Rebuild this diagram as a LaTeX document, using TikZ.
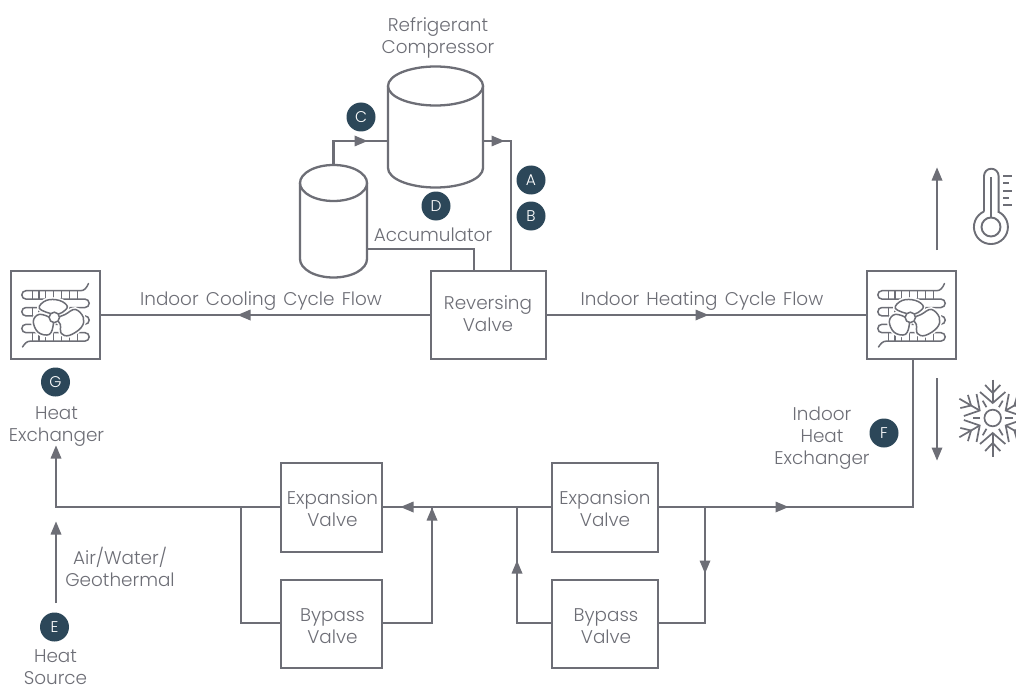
\documentclass[tikz,border=0pt]{standalone}
\usepackage{fontspec}
\setmainfont{Poppins Light}
\usetikzlibrary{arrows.meta}
\definecolor{ln}{HTML}{6D6E76}
\definecolor{tx}{HTML}{6D6E76}
\definecolor{bd}{HTML}{2C4759}
\tikzset{
 x=1pt,y=-1pt,
 ln/.style={draw=ln,line width=2.3pt,line join=miter},
 coil/.style={draw=ln,line width=1.5pt,line cap=round},
 box/.style={ln,fill=white,minimum width=#1,minimum height=88.5pt,inner sep=0pt},
 badge/.style={circle,fill=bd,text=white,minimum size=29pt,inner sep=0pt,font=\fontsize{15.5}{18}\selectfont},
 lbl/.style={text=tx,align=center,inner sep=0pt,font=\fontsize{18.4}{22}\selectfont},
 halo/.style={draw=white,line width=4.5pt,fill=white},
 vane/.style={coil,fill=white,line join=round},
 pics/hx/.style={code={
  \draw[coil]
    (33,-31.5) .. controls (31,-27) and (29,-24.3) .. (25,-24.3) -- (-29.5,-24.3)
    arc[start angle=270,end angle=90,radius=4.2] -- (29.5,-15.9)
    arc[start angle=-90,end angle=90,radius=4.2] -- (-29.5,-7.5)
    arc[start angle=270,end angle=90,radius=4.2] -- (29.5,0.9)
    arc[start angle=-90,end angle=90,radius=4.2] -- (-29.5,9.3)
    arc[start angle=270,end angle=90,radius=4.2] -- (29.5,17.7)
    arc[start angle=-90,end angle=90,radius=4.2] -- (-25,26.1)
    .. controls (-29,26.1) and (-31,29) .. (-33,32);
  \foreach \xx in {-23,-16.5,-10,-2,6,14,22}{
    \draw[coil,line width=1.1pt] (\xx,-24.3) -- (\xx,-15.9);
    \draw[coil,line width=1.1pt] (\xx,26.1) -- (\xx,17.7);
    \draw[coil,line width=1.1pt] (\xx,-7.5) -- (\xx,0.9);
    \draw[coil,line width=1.1pt] (\xx,9.3) -- (\xx,0.9);
  }
  \begin{scope}[shift={(-1.2,2.4)}]
  \foreach \s in {halo,vane}{
    \draw[\s] plot[smooth cycle,tension=.65] coordinates {(-1,-3) (-15,-9) (-8,-17) (5,-17) (13,-11) (8,-5) (2,-3)};
    \draw[\s] plot[smooth cycle,tension=.65] coordinates {(3,1) (11,-3) (21,-8) (29,0) (27,10) (15,18) (7,16) (6,7)};
    \draw[\s] plot[smooth cycle,tension=.65] coordinates {(-3,1) (-15,-3) (-21,4) (-16,15) (-5,17) (-1,7)};
  }
  \draw[coil,fill=white] (0,0) circle[radius=5.2];
  \end{scope}
 }},
}
\begin{document}
\begin{tikzpicture}
\useasboundingbox (0,0) rectangle (1016,687);
\fill[white] (0,0) rectangle (1016,687);
% nodes
\node[box=89pt] (hl) at (55.5,315) {};
\node[box=89pt] (hr) at (911.5,315) {};
\node[box=115pt] (rv) at (488.5,315) {};
\node[box=101pt] (e1) at (331.5,507.5) {};
\node[box=101pt] (b1) at (331.5,624) {};
\node[box=106pt] (e2) at (605,507.5) {};
\node[box=106pt] (b2) at (605,624) {};
\node[lbl] (rvt) at (488,314) {Reversing\\Valve};
\node[lbl] (e1t) at (332.5,509) {Expansion\\Valve};
\node[lbl] (b1t) at (332.5,626.5) {Bypass\\Valve};
\node[lbl] (e2t) at (605,509) {Expansion\\Valve};
\node[lbl] (b2t) at (606,626.5) {Bypass\\Valve};
\pic at (55.5,315) {hx};
\pic at (911.5,315) {hx};
% cylinders
\node[minimum width=95pt,minimum height=120pt,inner sep=0pt] (comp) at (435.5,127) {};
\node[minimum width=67pt,minimum height=112pt,inner sep=0pt] (acc) at (333.5,221) {};
% connectors
\coordinate (c1) at (333.5,141);
\coordinate (c2) at (511,141);
\coordinate (c3) at (474,249);
\draw[ln] (acc.north) -- (c1) -- (comp.west |- c1);
\draw[ln] (comp.east |- c2) -- (c2) -- (rv.north -| c2);
\draw[ln] (acc.east |- c3) -- (c3) -- (rv.north -| c3);
\draw[ln] (rv.west) -- (hl.east);
\draw[ln] (rv.east) -- (hr.west);
\coordinate (c4) at (913,507);
\draw[ln] (hr.south -| c4) -- (c4) -- (e2.east |- c4);
\draw[ln] (e2.west |- c4) -- (e1.east |- c4);
\coordinate (c5) at (56,507);
\coordinate (c5t) at (56,450);
\draw[ln] (e1.west |- c5) -- (c5) -- (c5t);
\coordinate (c6) at (241,507);
\coordinate (c7) at (241,623);
\draw[ln] (c6) -- (c7) -- (b1.west |- c7);
\coordinate (c8) at (432,623);
\coordinate (c9) at (432,507);
\draw[ln] (b1.east |- c8) -- (c8) -- (c9);
\coordinate (c10) at (517,623);
\coordinate (c11) at (517,507);
\draw[ln] (b2.west |- c10) -- (c10) -- (c11);
\coordinate (c12) at (705,623);
\coordinate (c13) at (705,507);
\draw[ln] (b2.east |- c12) -- (c12) -- (c13);
% free arrows
\coordinate (f1) at (56,603); \coordinate (f2) at (56,530);
\draw[ln] (f1) -- (f2);
\coordinate (f3) at (937,250); \coordinate (f4) at (937,176);
\draw[ln] (f3) -- (f4);
\coordinate (f5) at (937,378); \coordinate (f6) at (937,452);
\draw[ln] (f5) -- (f6);
% cylinder bodies
\fill[white] (388,86) rectangle (483,168);
\fill[white] (435.5,168) ellipse[x radius=47.5,y radius=19.5];
\draw[ln] (388,86) -- (388,168) arc[start angle=180,end angle=0,x radius=47.5,y radius=19.5] -- (483,86);
\draw[ln,fill=white] (435.5,86) ellipse[x radius=47.5,y radius=19.5];
\fill[white] (300,183) rectangle (367,259);
\fill[white] (333.5,259) ellipse[x radius=33.5,y radius=18.5];
\draw[ln] (300,183) -- (300,259) arc[start angle=180,end angle=0,x radius=33.5,y radius=18.5] -- (367,183);
\draw[ln,fill=white] (333.5,183) ellipse[x radius=33.5,y radius=18];
% arrowheads
\def\ar#1#2#3{\fill[fill=ln,shift={(#1,#2)},rotate=#3] (-6.5,-5.5) -- (6.5,0) -- (-6.5,5.5) -- cycle;}
\ar{361}{141}{0}\ar{498}{141}{0}\ar{244}{315}{180}\ar{702}{315}{0}\ar{782}{507}{0}\ar{407}{507}{180}
\ar{432}{514}{90}\ar{517}{567}{90}\ar{705}{567}{-90}\ar{56}{452}{90}\ar{56}{528}{90}\ar{937}{174}{90}\ar{937}{454}{-90}
% badges
\node[badge] (A) at (531,180) {A};
\node[badge] (B) at (531,216) {B};
\node[badge] (C) at (361,117) {C};
\node[badge] (D) at (436,206) {D};
\node[badge] (E) at (54.5,627) {E};
\node[badge] (F) at (884,433) {F};
\node[badge] (G) at (55.5,382) {G};
% labels
\node[lbl] (t1) at (438,38) {Refrigerant\\Compressor};
\node[lbl] (t2) at (433,235) {Accumulator};
\node[lbl] (t3) at (261,301) {\spaceskip=7.2pt\relax Indoor Cooling Cycle Flow};
\node[lbl] (t4) at (702,301) {\spaceskip=7.2pt\relax Indoor Heating Cycle Flow};
\node[lbl] (t5) at (56.5,427) {Heat\\Exchanger};
\node[lbl] (t6) at (822,438) {Indoor\\Heat\\Exchanger};
\node[lbl] (t7) at (120,567) {Air/Water/\\Geothermal};
\node[lbl] (t8) at (55.5,667) {Heat\\Source};
% thermometer
\draw[ln,line width=1.9pt,line join=round] (984,211.5) -- (984,176) arc[start angle=180,end angle=360,radius=7.3] -- (998.6,211.5);
\draw[ln,line width=1.9pt] (984,211.5) arc[start angle=246,end angle=-66,radius=17];
\draw[ln,line width=1.9pt] (991,177) -- (991,218);
\draw[ln,line width=1.9pt] (991,227) circle[radius=9.5];
\foreach \yy/\ww in {176/9,183/5.5,191/9,198/5.5,205/9}{\draw[ln,line width=1.9pt] (1003,\yy) -- ++(\ww,0);}
% snowflake
\begin{scope}[shift={(992.7,418)}]
\draw[ln,line width=1.7pt] (0,0) circle[radius=8.3];
\foreach \a in {0,60,...,300}{
\begin{scope}[rotate=\a]
 \draw[ln,line width=1.7pt] (0,-38.5) -- (0,-15);
 \draw[ln,line width=1.7pt] (-7.6,-33) -- (0,-25) -- (7.6,-33);
 \draw[ln,line width=1.7pt] (-12.7,-26) -- (0,-15) -- (12.7,-26);
\end{scope}
\begin{scope}[rotate=\a+30]
 \draw[ln,line width=1.7pt] (0,-12.5) -- (0,-20);
\end{scope}}
\end{scope}
\end{tikzpicture}
\end{document}
